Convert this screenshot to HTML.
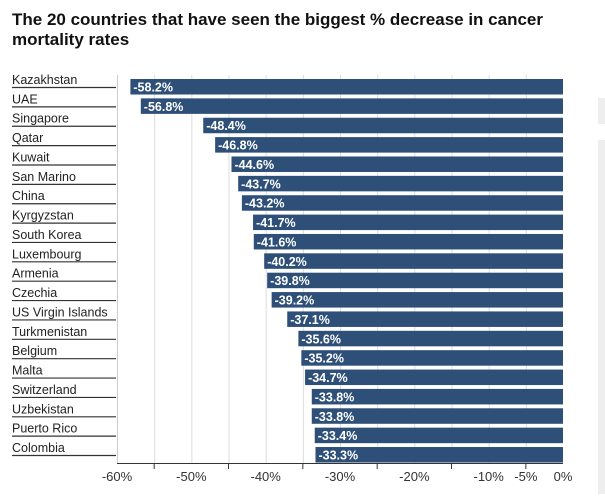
<!DOCTYPE html>
<html><head><meta charset="utf-8"><style>
body{margin:0;background:#fff;width:605px;height:494px;overflow:hidden;font-family:"Liberation Sans",sans-serif}
</style></head><body>
<svg width="605" height="494" xmlns="http://www.w3.org/2000/svg" font-family="Liberation Sans, sans-serif">
<rect x="598" y="98" width="7" height="26" fill="#eee"/>
<rect x="598" y="140" width="7" height="354" fill="#eee"/>
<text x="12" y="25" font-size="17" font-weight="bold" fill="#111">The 20 countries that have seen the biggest % decrease in cancer</text>
<text x="12" y="45" font-size="17" font-weight="bold" fill="#111">mortality rates</text>
<g id="grid" stroke="#ddd" stroke-width="1"></g>
<line x1="117.5" y1="75" x2="117.5" y2="463" stroke="#ccc"/>
<g id="bars"></g>
<line x1="117" y1="463.5" x2="563" y2="463.5" stroke="#333"/>
<g id="ticks" font-size="13" fill="#333" text-anchor="middle"></g>
<script>
var d=[["Kazakhstan",58.2],["UAE",56.8],["Singapore",48.4],["Qatar",46.8],["Kuwait",44.6],["San Marino",43.7],["China",43.2],["Kyrgyzstan",41.7],["South Korea",41.6],["Luxembourg",40.2],["Armenia",39.8],["Czechia",39.2],["US Virgin Islands",37.1],["Turkmenistan",35.6],["Belgium",35.2],["Malta",34.7],["Switzerland",33.8],["Uzbekistan",33.8],["Puerto Rico",33.4],["Colombia",33.3]];
var ns="http://www.w3.org/2000/svg";
function el(t,a,p,txt){var e=document.createElementNS(ns,t);for(var k in a)e.setAttribute(k,a[k]);if(txt)e.textContent=txt;document.getElementById(p).appendChild(e);return e;}
var X=function(v){return 563-v*7.433;};
for(var v=5;v<=55;v+=5){el("line",{x1:X(v)+.5,y1:75,x2:X(v)+.5,y2:463},"grid");}
d.forEach(function(r,i){var y=79+i*19.37;var x=X(r[1]);
el("rect",{x:x,y:y,width:563-x,height:15.5,fill:"#2d4f78"},"bars");
el("text",{x:x+3,y:y+12.5,"font-size":"12.5","font-weight":"bold",fill:"#fff"},"bars","-"+r[1].toFixed(1)+"%");
el("text",{x:12,y:y+5,"font-size":"12.5",fill:"#222"},"bars",r[0]);
el("line",{x1:12,y1:y+8.5,x2:116,y2:y+8.5,stroke:"#333","stroke-width":1.2},"bars");
});
for(var v=5;v<=55;v+=10){el("line",{x1:X(v),y1:463,x2:X(v),y2:469,stroke:"#333"},"ticks");}
[[60,"-60%"],[50,"-50%"],[40,"-40%"],[30,"-30%"],[20,"-20%"],[10,"-10%"],[5,"-5%"],[0,"0%"]].forEach(function(t){el("text",{x:X(t[0]),y:481},"ticks",t[1]);});
</script>
</svg>
</body></html>
